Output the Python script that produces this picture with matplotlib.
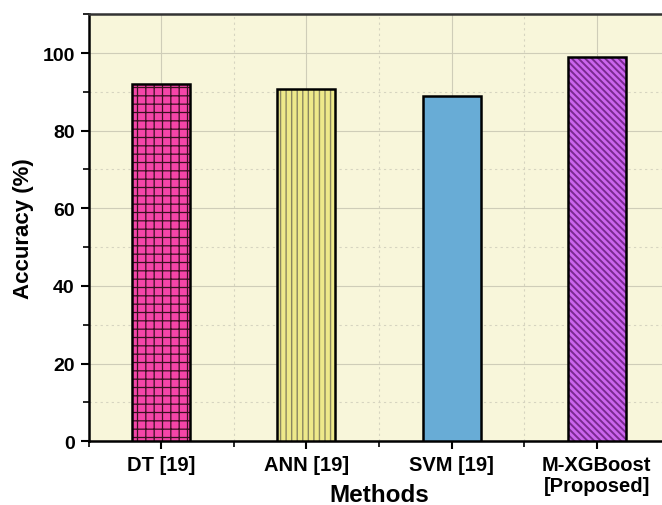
import matplotlib
matplotlib.use("Agg")
import matplotlib.pyplot as plt
from matplotlib.ticker import MultipleLocator

methods = ["DT [19]", "ANN [19]", "SVM [19]", "M-XGBoost\n[Proposed]"]
accuracy = [92.0, 90.7, 89.0, 99.0]
colors = ["#f545a8", "#eee98a", "#68acd6", "#cc66ee"]
hatch_colors = ["#3a1020", "#8a8660", "#5a98c0", "#7a2a90"]
hatches = ["++", "|||", "", "\\\\\\\\\\"]
hatch_widths = [0.9, 1.0, 0.9, 1.4]

plt.rcParams["font.family"] = ["Liberation Sans", "DejaVu Sans"]

fig = plt.figure(figsize=(6.62, 5.06), dpi=100)
ax = fig.add_axes([0.134, 0.126, 0.877, 0.844])
ax.set_facecolor("#f8f6da")

x = range(len(methods))
for i in x:
    with plt.rc_context({"hatch.linewidth": hatch_widths[i]}):
        ax.bar(i, accuracy[i], width=0.4, color=colors[i], hatch=hatches[i],
               edgecolor=hatch_colors[i], linewidth=0, zorder=3)
ax.bar(x, accuracy, width=0.4, facecolor="none", edgecolor="black",
       linewidth=1.8, zorder=4)

ax.set_xlim(-0.5, 3.5)
ax.set_ylim(0, 110)
ax.set_xticks(list(x))
ax.set_xticklabels(methods, fontsize=14.5, fontweight="bold", linespacing=1.1)
ax.xaxis.set_minor_locator(MultipleLocator(0.5))
ax.yaxis.set_major_locator(MultipleLocator(20))
ax.yaxis.set_minor_locator(MultipleLocator(10))
for lbl in ax.get_yticklabels():
    lbl.set_fontweight("bold")
    lbl.set_fontsize(14)

ax.tick_params(which="major", direction="out", length=6, width=1.5, pad=4)
ax.tick_params(which="minor", direction="out", length=4, width=1.2)
ax.grid(which="major", color="#cfcdb8", linewidth=0.8, zorder=0)
ax.grid(which="minor", color="#d6d4c0", linewidth=0.8, linestyle=(0, (2, 3)), zorder=0)
ax.set_axisbelow(True)

for s in ["left", "bottom"]:
    ax.spines[s].set_linewidth(1.8)
ax.spines["top"].set_linewidth(1.8)
ax.spines["top"].set_color("#333333")

ax.set_ylabel("Accuracy (%)", fontsize=16, fontweight="bold", va="center")
ax.yaxis.set_label_coords(-0.112, 0.5)
ax.set_xlabel("Methods", fontsize=17.5, fontweight="bold", va="center")
ax.xaxis.set_label_coords(0.5, -0.124)

fig.savefig("out.png", dpi=100)
